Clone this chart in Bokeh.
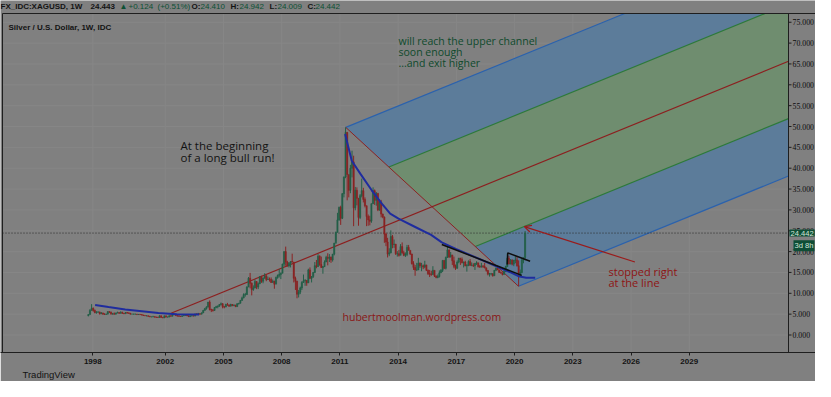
from bokeh.plotting import figure
from bokeh.models import Label, Arrow, OpenHead, FixedTicker, PrintfTickFormatter, Title
from bokeh.embed import file_html
from bokeh.resources import INLINE

# ---------------- data ----------------
first_open = 4.6
closes = [
    4.9, 5.9, 6.4, 5.9, 5.4, 5.5, 5.5, 5.1, 5.3, 5.0, 4.95, 5.0,        # 1998
    5.6, 5.5, 5.0, 5.1, 5.0, 5.3, 5.4, 5.2, 5.4, 5.2, 5.1, 5.4,         # 1999
    5.3, 5.2, 5.0, 5.0, 5.0, 5.0, 4.9, 4.95, 4.9, 4.8, 4.7, 4.6,        # 2000
    4.6, 4.5, 4.35, 4.35, 4.4, 4.3, 4.25, 4.2, 4.6, 4.2, 4.1, 4.6,      # 2001
    4.3, 4.3, 4.6, 4.5, 4.9, 4.9, 4.65, 4.6, 4.5, 4.45, 4.6, 4.7,       # 2002
    4.9, 4.6, 4.4, 4.6, 4.6, 4.55, 5.05, 5.0, 5.1, 5.0, 5.3, 5.9,       # 2003
    6.3, 6.7, 7.9, 6.1, 6.0, 5.9, 6.6, 6.8, 6.9, 7.3, 7.5, 6.8,         # 2004
    6.7, 7.3, 7.2, 6.9, 7.3, 7.1, 7.2, 6.8, 7.5, 7.6, 8.3, 8.9,         # 2005
    9.7, 9.7, 11.5, 13.6, 12.4, 10.9, 11.3, 12.8, 11.5, 12.3, 14.0, 12.9,  # 2006
    13.6, 14.2, 13.3, 13.4, 13.3, 12.6, 12.9, 12.2, 13.8, 14.3, 14.5, 14.8,  # 2007
    17.0, 20.0, 17.5, 16.6, 17.2, 17.6, 17.5, 13.6, 12.9, 9.8, 10.3, 11.3,  # 2008
    12.6, 13.0, 13.1, 12.5, 15.6, 13.6, 14.0, 15.0, 16.6, 16.4, 18.9, 16.9,  # 2009
    16.2, 16.4, 17.5, 18.6, 18.4, 18.7, 18.0, 19.4, 22.0, 24.6, 27.6, 30.6,  # 2010
    28.0, 33.9, 37.9, 48.6, 38.5, 34.7, 40.0, 41.5, 30.5, 34.7, 32.8, 28.2,  # 2011
    33.4, 34.6, 32.5, 31.0, 28.4, 27.6, 27.3, 31.5, 34.6, 32.3, 34.0, 30.0,  # 2012
    31.7, 29.0, 28.3, 24.2, 22.3, 19.4, 19.7, 23.6, 21.7, 21.8, 19.5, 19.5,  # 2013
    19.1, 21.2, 19.7, 19.1, 19.3, 21.0, 20.3, 19.4, 17.1, 16.2, 15.6, 15.6,  # 2014
    17.2, 16.6, 16.6, 16.3, 16.8, 15.5, 14.7, 14.6, 14.5, 15.5, 14.1, 13.8,  # 2015
    14.0, 14.9, 15.5, 17.9, 16.0, 18.6, 20.4, 18.7, 19.2, 17.8, 16.5, 16.0,  # 2016
    17.5, 18.4, 18.1, 17.3, 17.5, 16.6, 16.7, 17.6, 16.7, 16.7, 16.6, 17.2,  # 2017
    17.3, 16.4, 16.3, 16.5, 16.4, 16.1, 15.5, 14.6, 14.7, 14.7, 14.2, 15.5,  # 2018
    16.0, 15.6, 15.0, 14.9, 14.5, 15.3, 16.4, 18.4, 17.0, 18.0, 17.0, 17.9,  # 2019
    18.0, 16.6, 14.1, 15.0, 18.0, 18.6, 24.44,                               # 2020
]
highs = [
    5.0, 6.2, 7.4, 6.6, 6.1, 5.7, 5.7, 5.6, 5.5, 5.3, 5.2, 5.1,
    5.7, 5.7, 5.6, 5.3, 5.4, 5.3, 5.6, 5.4, 5.7, 5.6, 5.3, 5.5,
    5.5, 5.4, 5.3, 5.1, 5.1, 5.1, 5.05, 5.0, 5.0, 4.95, 4.8, 4.7,
    4.75, 4.6, 4.5, 4.4, 4.6, 4.45, 4.35, 4.35, 4.7, 4.65, 4.2, 4.6,
    4.6, 4.4, 4.7, 4.7, 5.0, 5.1, 5.0, 4.75, 4.65, 4.55, 4.6, 4.8,
    5.0, 4.9, 4.7, 4.7, 4.8, 4.7, 5.1, 5.2, 5.3, 5.2, 5.4, 6.0,
    6.5, 6.9, 7.9, 8.3, 6.3, 6.2, 6.7, 7.0, 7.1, 7.4, 7.8, 7.6,
    6.9, 7.5, 7.7, 7.3, 7.5, 7.4, 7.3, 7.2, 7.6, 7.7, 8.4, 9.2,
    10.0, 10.1, 11.7, 13.9, 14.9, 12.6, 11.9, 13.3, 12.9, 12.6, 14.1, 14.2,
    13.8, 14.8, 14.3, 14.0, 13.8, 13.8, 13.3, 13.0, 14.0, 14.5, 15.8, 15.0,
    17.1, 20.0, 21.2, 17.8, 17.5, 17.7, 19.5, 17.5, 14.0, 13.0, 10.8, 11.6,
    12.9, 14.5, 13.4, 13.1, 15.9, 16.2, 14.1, 15.1, 17.5, 18.0, 19.4, 19.1,
    18.8, 16.5, 17.9, 19.0, 19.6, 19.4, 18.8, 19.4, 22.1, 24.8, 29.3, 30.8,
    31.0, 34.0, 38.0, 49.8, 48.6, 38.3, 40.8, 44.2, 43.0, 35.5, 35.4, 32.8,
    33.8, 37.5, 35.3, 33.0, 31.0, 28.9, 28.6, 31.5, 35.4, 34.9, 34.3, 33.9,
    32.5, 32.4, 29.1, 28.4, 24.5, 23.3, 20.8, 25.1, 24.0, 22.9, 21.7, 20.1,
    20.4, 21.8, 22.2, 20.2, 19.8, 21.6, 21.6, 20.2, 19.5, 17.7, 16.8, 17.3,
    18.5, 17.4, 17.3, 16.9, 17.8, 16.8, 15.7, 15.6, 15.4, 16.5, 15.0, 14.3,
    14.5, 15.5, 15.8, 17.9, 17.8, 18.8, 21.2, 20.5, 19.9, 18.6, 18.8, 16.9,
    17.9, 18.5, 18.5, 18.6, 17.6, 17.8, 17.0, 17.9, 18.2, 17.4, 17.2, 17.2,
    17.7, 17.3, 16.8, 17.3, 16.8, 17.3, 16.1, 15.5, 14.9, 14.9, 14.8, 15.6,
    16.2, 16.2, 15.6, 15.2, 14.9, 15.5, 16.6, 19.6, 19.0, 18.2, 18.1, 18.0,
    18.9, 18.9, 17.9, 15.7, 18.5, 18.5, 24.94,
]
lows = [
    4.5, 4.9, 5.9, 5.6, 5.2, 5.1, 5.3, 4.9, 5.0, 4.9, 4.8, 4.8,
    5.0, 5.3, 5.0, 4.95, 4.9, 4.95, 5.2, 5.1, 5.2, 5.1, 5.0, 5.1,
    5.1, 5.1, 4.95, 4.95, 4.9, 4.9, 4.85, 4.8, 4.8, 4.7, 4.6, 4.55,
    4.5, 4.4, 4.3, 4.3, 4.3, 4.2, 4.15, 4.15, 4.15, 4.2, 4.05, 4.1,
    4.2, 4.2, 4.3, 4.45, 4.5, 4.8, 4.6, 4.4, 4.4, 4.35, 4.4, 4.55,
    4.7, 4.55, 4.35, 4.4, 4.5, 4.5, 4.5, 4.9, 4.9, 4.9, 5.0, 5.3,
    5.9, 6.1, 6.6, 5.9, 5.5, 5.6, 5.8, 6.4, 6.4, 6.8, 7.1, 6.4,
    6.4, 6.7, 7.0, 6.8, 6.9, 6.9, 6.9, 6.7, 6.8, 7.3, 7.6, 8.2,
    8.8, 9.2, 9.6, 11.5, 11.2, 9.5, 10.6, 11.2, 11.0, 11.0, 12.2, 12.5,
    12.4, 13.6, 12.9, 13.2, 12.8, 12.5, 12.6, 11.1, 12.3, 13.5, 13.8, 13.4,
    14.9, 16.5, 16.6, 16.4, 16.2, 16.2, 17.4, 12.6, 10.8, 8.8, 9.0, 9.8,
    10.8, 12.5, 11.8, 11.8, 12.5, 13.4, 12.6, 13.7, 14.9, 16.0, 16.3, 16.6,
    16.1, 14.7, 16.3, 17.5, 16.7, 17.5, 17.3, 17.6, 19.1, 22.4, 25.2, 27.4,
    26.4, 27.8, 33.0, 37.6, 32.3, 33.0, 34.0, 37.8, 26.1, 29.9, 31.1, 26.2,
    27.8, 33.0, 31.8, 30.6, 26.1, 26.2, 26.3, 26.9, 31.4, 31.2, 31.0, 29.7,
    29.8, 28.2, 28.0, 22.1, 21.3, 18.6, 18.9, 19.6, 20.8, 20.9, 19.2, 18.8,
    18.8, 19.3, 19.5, 18.9, 18.7, 18.9, 20.3, 19.2, 16.9, 15.6, 14.2, 15.4,
    15.6, 16.1, 15.3, 15.8, 16.0, 15.4, 14.4, 13.9, 14.2, 14.5, 13.9, 13.6,
    13.6, 13.8, 14.9, 15.1, 15.8, 15.7, 18.5, 18.5, 18.6, 16.8, 16.0, 15.6,
    15.9, 17.2, 16.8, 17.2, 16.2, 16.5, 15.2, 16.5, 16.6, 16.5, 16.3, 15.6,
    16.8, 16.2, 16.1, 16.2, 16.1, 16.0, 15.2, 14.3, 14.0, 14.3, 14.0, 14.3,
    15.4, 15.6, 14.9, 14.7, 14.3, 14.5, 15.1, 16.4, 17.0, 17.0, 16.7, 16.5,
    17.2, 16.4, 11.7, 13.9, 14.8, 17.2, 17.9,
]
series_start_year = 1998.0
last_price = 24.442

# Andrews' pitchfork: anchor, high pivot, low pivot
fork_years = [2002.3, 2011.3, 2020.2]
fork_prices = [5.2, 49.8, 11.7]
fork_levels = [1.0, 0.5, -0.5, -1.0]

# hand-drawn blue curves
early_curve_years = [1998.39, 1999.08, 1999.94, 2000.8, 2001.65, 2002.6, 2003.75]
early_curve_prices = [7.2, 6.7, 6.1, 5.7, 5.25, 5.0, 4.9]
curve_years = [2011.27, 2011.39, 2011.61, 2012.05, 2012.64, 2013.16, 2013.59, 2014.02, 2014.88,
               2015.7, 2016.25, 2017.0, 2018.0, 2019.0, 2019.8, 2020.2, 2020.6, 2021.06]
curve_prices = [48.2, 45.9, 41.8, 38.7, 34.7, 31.5, 29.1, 27.9, 25.9,
                24.0, 22.2, 20.6, 18.6, 16.6, 15.0, 14.1, 13.75, 13.7]

# black trendline and flag
trend_years = [2016.25, 2020.37]
trend_prices = [21.7, 14.3]
flag_years = [2019.62, 2019.65, 2020.8]
flag_prices = [16.9, 19.7, 17.7]

# red arrow (from, to)
arrow_years = [2026.2, 2020.5]
arrow_prices = [17.5, 26.0]

price_ticks = list(range(0, 80, 5))
year_ticks = [1998.27, 2002, 2005, 2008, 2011, 2014, 2017, 2020, 2023, 2026, 2029]

# ---------------- layout (pixels of the picture) ----------------
W, H = 815, 381
X2002, PPY = 164.7, 19.41     # pixel of year 2002, pixels per year
Y0, PPV = 334.5, 4.17         # pixel of price 0, pixels per unit
FRAME_BOTTOM = 352
PANE_LEFT, PANE_TOP, PANE_RIGHT = 2, 13, 788


def px_year(px):
    return 2002 + (px - X2002) / PPY


def py_val(py):
    return (Y0 - py) / PPV


BG = "#808080"
DARK = "#131313"
LINE = "#1e1e1e"
AXIS_FONT = "Liberation Sans"
NOTE_FONT = "Open Sans"

p = figure(width=W, height=H, output_backend="svg", toolbar_location=None,
           x_range=(px_year(0), px_year(W)), y_range=(py_val(FRAME_BOTTOM), py_val(0)),
           y_axis_location=None,
           min_border_left=0, min_border_right=0, min_border_top=0,
           min_border_bottom=H - FRAME_BOTTOM)
p.background_fill_color = BG
p.border_fill_color = BG
p.outline_line_color = None
p.grid.visible = False

# time axis (library axis)
p.xaxis.ticker = FixedTicker(ticks=year_ticks)
p.xaxis.formatter = PrintfTickFormatter(format="%d")
p.xaxis.axis_line_color = LINE
p.xaxis.major_tick_line_color = LINE
p.xaxis.major_tick_in = 0
p.xaxis.major_tick_out = 3
p.xaxis.minor_tick_line_color = None
p.xaxis.major_label_standoff = 3
p.xaxis.major_label_text_color = DARK
p.xaxis.major_label_text_font = AXIS_FONT
p.xaxis.major_label_text_font_size = "8px"
p.xaxis.major_label_text_font_style = "bold"

p.add_layout(Title(text="TradingView", align="left", offset=22, standoff=0,
                   text_font=AXIS_FONT, text_font_size="9.5px", text_font_style="normal",
                   text_color=DARK), "below")

x_left, x_right = px_year(PANE_LEFT), px_year(PANE_RIGHT)
y_top, y_bot = py_val(PANE_TOP), py_val(FRAME_BOTTOM)

# faint grid
p.segment(x0=[x_left] * len(price_ticks), y0=price_ticks, x1=[x_right] * len(price_ticks),
          y1=price_ticks, line_color="#868686", line_width=1)
p.segment(x0=year_ticks, y0=[y_top] * len(year_ticks), x1=year_ticks, y1=[y_bot] * len(year_ticks),
          line_color="#868686", line_width=1)

# ---------------- pitchfork ----------------
ax_, bx_, cx_ = fork_years
ay_, by_, cy_ = fork_prices
mx_, my_ = (bx_ + cx_) / 2, (by_ + cy_) / 2
slope = (my_ - ay_) / (mx_ - ax_)
far_x = x_right


def tine(f):
    sx = mx_ + f * (bx_ - mx_)
    sy = my_ + f * (by_ - my_)
    return (sx, sy), (far_x, sy + slope * (far_x - sx))


t1, t05, tm05, tm1 = [tine(f) for f in fork_levels]


def clip_top(pts):
    out = []
    n = len(pts)
    for i in range(n):
        a, b = pts[i], pts[(i + 1) % n]
        ina, inb = a[1] <= y_top, b[1] <= y_top
        if ina:
            out.append(a)
        if ina != inb:
            r = (y_top - a[1]) / (b[1] - a[1])
            out.append((a[0] + r * (b[0] - a[0]), y_top))
    return out


def band(upper, lower, color):
    pts = clip_top([upper[0], upper[1], lower[1], lower[0]])
    p.patch([q[0] for q in pts], [q[1] for q in pts], fill_color=color, line_color=None)


def seg_clip(s, e):
    if e[1] > y_top:
        r = (y_top - s[1]) / (e[1] - s[1])
        e = (s[0] + r * (e[0] - s[0]), y_top)
    return s, e


BLUE_FILL = "#5c7c9a"
GREEN_FILL = "#6f8d6f"
band(t1, t05, BLUE_FILL)
band(t05, tm05, GREEN_FILL)
band(tm05, tm1, BLUE_FILL)

for tn, col in [(t1, "#2b62ad"), (tm1, "#2b62ad"), (t05, "#2c7a3a"), (tm05, "#2c7a3a")]:
    s, e = seg_clip(*tn)
    p.line([s[0], e[0]], [s[1], e[1]], line_color=col, line_width=1.2)
p.line([ax_, far_x], [ay_, ay_ + slope * (far_x - ax_)], line_color="#8c1f1f", line_width=1.2)
p.line([bx_, cx_], [by_, cy_], line_color="#8c2222", line_width=1)

# last price dotted line
p.line([x_left, x_right], [last_price, last_price], line_color="#2a2a2a",
       line_dash="1 2", line_width=1)

# ---------------- candles ----------------
t = [series_start_year + (i + 0.5) / 12 for i in range(len(closes))]
opens = [first_open] + closes[:-1]
UP, DOWN = "#245f48", "#8a2323"
cols = [UP if c >= o else DOWN for o, c in zip(opens, closes)]
tops = [max(o, c) for o, c in zip(opens, closes)]
bots = [min(o, c) for o, c in zip(opens, closes)]
p.segment(x0=t, y0=lows, x1=t, y1=highs, line_color=cols, line_width=1)
p.vbar(x=t, top=tops, bottom=bots, width=0.06, fill_color=cols, line_color=cols, line_width=0.6)

# ---------------- drawings ----------------
p.line(early_curve_years, early_curve_prices, line_color="#1f2c9e", line_width=2)
p.line(curve_years, curve_prices, line_color="#1f2c9e", line_width=2)
p.line(trend_years, trend_prices, line_color="#0e0e0e", line_width=1.5)
p.line(flag_years, flag_prices, line_color="#0e0e0e", line_width=1.5)

p.add_layout(Arrow(end=OpenHead(size=7, line_color="#9a1b1b", line_width=1.2),
                   x_start=arrow_years[0], y_start=arrow_prices[0],
                   x_end=arrow_years[1], y_end=arrow_prices[1],
                   line_color="#9a1b1b", line_width=1.2))

# ---------------- pane frame and price scale ----------------
p.line([x_left, px_year(W)], [y_top, y_top], line_color=LINE, line_width=1)
p.line([x_left, x_left], [y_top, y_bot], line_color=LINE, line_width=1)
p.line([x_right, x_right], [y_top, y_bot], line_color=LINE, line_width=1)
p.segment(x0=[x_right] * len(price_ticks), y0=price_ticks,
          x1=[px_year(PANE_RIGHT + 3)] * len(price_ticks), y1=price_ticks,
          line_color=LINE, line_width=1)
p.text(x=[px_year(PANE_RIGHT + 4)] * len(price_ticks), y=price_ticks,
       text=["%.3f" % v for v in price_ticks], text_color="#0c0c0c", text_font="Liberation Sans",
       text_font_size="7.8px", text_baseline="middle", text_align="left")


def note(x, y, text, color, size="10px", font=NOTE_FONT, style="normal", bg=None, xu="data"):
    p.add_layout(Label(x=x, y=y, x_units=xu, text=text, text_color=color, text_font=font,
                       text_font_size=size, text_baseline="middle", text_align="left",
                       text_font_style=style, background_fill_color=bg,
                       padding=1 if bg else 0))


note(px_year(398), py_val(40), "will reach the upper channel", "#0f4a2c", size="10.5px")
note(px_year(398), py_val(51.5), "soon enough", "#0f4a2c", size="10.5px")
note(px_year(398), py_val(62.5), "...and exit higher", "#0f4a2c", size="10.5px")
note(px_year(180), py_val(145.3), "At the beginning", DARK, size="11.5px")
note(px_year(180), py_val(156.5), "of a long bull run!", DARK, size="11.5px")
note(px_year(608), py_val(271), "stopped right", "#8e1414", size="11px")
note(px_year(608), py_val(281.5), "at the line", "#8e1414", size="11px")
note(px_year(342), py_val(316), "hubertmoolman.wordpress.com", "#8a1616", size="10.5px")
note(px_year(8), py_val(27), "Silver / U.S. Dollar, 1W, IDC", DARK, size="8px",
     font=AXIS_FONT, style="bold")

# badges on the price scale
note(PANE_RIGHT + 1, py_val(232.5), "24.442", "#d2e6d9", size="7.6px", font=AXIS_FONT,
     bg="#0f4e36", xu="screen")
note(PANE_RIGHT + 5, py_val(245.3), "3d 8h", "#d2e6d9", size="7.6px", font=AXIS_FONT,
     bg="#0f4e36", xu="screen")

# header line
GREEN_TXT = "#0c5034"
header = [("FX_IDC:XAGUSD, 1W", 0, DARK, "bold"), ("24.443", 90, DARK, "bold"),
          ("\u25b2", 119, GREEN_TXT, "normal"), ("+0.124", 128, GREEN_TXT, "normal"),
          ("(+0.51%)", 157, GREEN_TXT, "normal"), ("O:", 191, DARK, "bold"),
          ("24.410", 200, GREEN_TXT, "normal"), ("H:", 230, DARK, "bold"),
          ("24.942", 239, GREEN_TXT, "normal"), ("L:", 269, DARK, "bold"),
          ("24.009", 277, GREEN_TXT, "normal"), ("C:", 307, DARK, "bold"),
          ("24.442", 315, GREEN_TXT, "normal")]
for txt, xx, col, st in header:
    note(xx, py_val(6), txt, col, size="8px", font=AXIS_FONT, style=st, xu="screen")

open("out.html", "w").write(file_html(p, INLINE))
